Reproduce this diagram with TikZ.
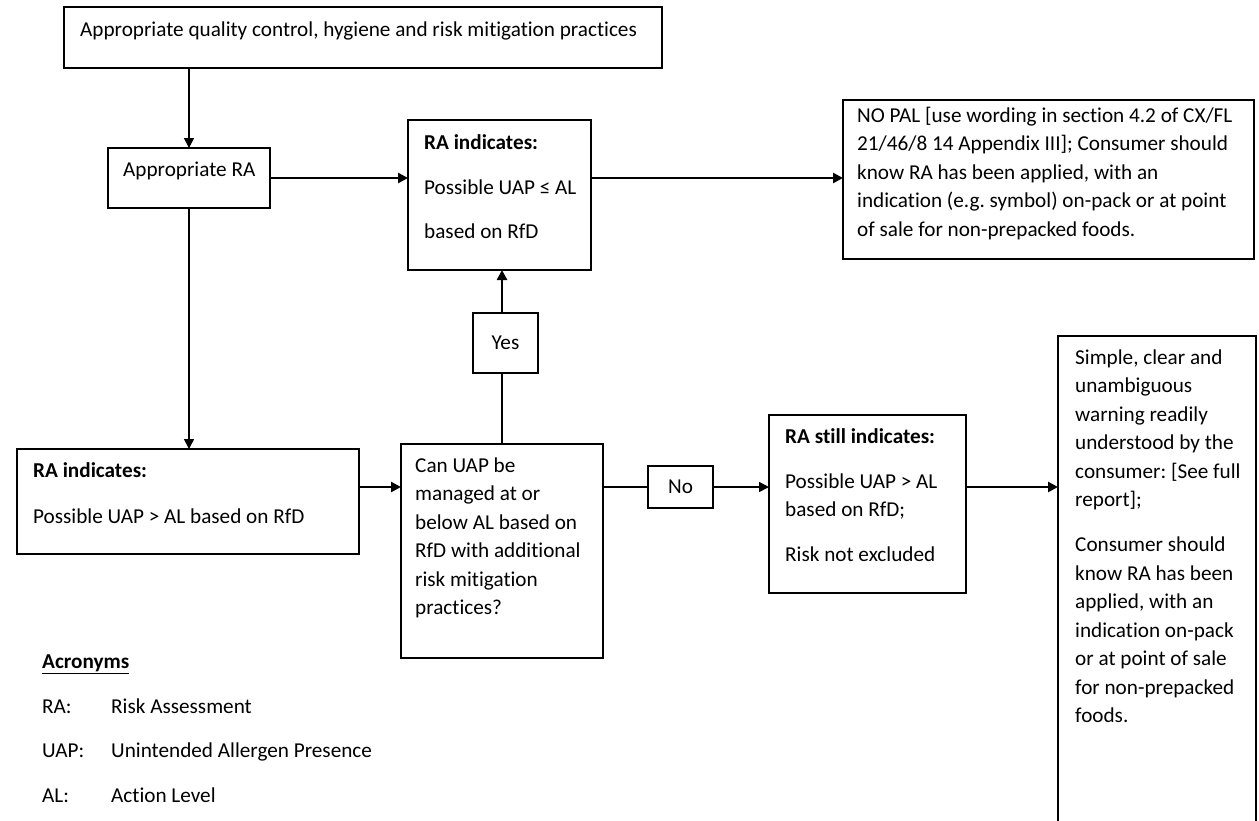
\documentclass[tikz,border=0pt]{standalone}
\usepackage{fontspec}
\setmainfont{Carlito}[Ligatures=NoCommon]
\usetikzlibrary{arrows.meta}
\newcommand\firststrut{\spaceskip=0pt\xspaceskip=0pt\rule{0pt}{20pt}}
\setlength\parindent{0pt}
\frenchspacing
\begin{document}
\begin{tikzpicture}[x=1pt,y=-1pt,
  box/.style={draw, line width=2.4pt, anchor=north west, inner sep=0pt, outer sep=0pt},
  txt/.style={anchor=base west, inner sep=0pt, font=\fontsize{21.2}{28.5}\selectfont\frenchspacing},
  ml/.style={anchor=north west, inner sep=0pt, text width=#1, font=\fontsize{21.2}{28.5}\selectfont\frenchspacing},
  ctr/.style={inner sep=0pt, font=\fontsize{21.2}{28.5}\selectfont},
  thinarr/.style={line width=1.6pt, -{Triangle[length=10pt,width=10pt]}},
  thickarr/.style={line width=2.6pt, -{Triangle[length=10pt,width=10pt]}},
  thinline/.style={line width=1.6pt},
  thickline/.style={line width=2.6pt}]
\useasboundingbox (0,0) rectangle (1259,820);
\fill[white] (0,0) rectangle (1259,820);

% boxes
\node[box, minimum width=598pt, minimum height=61pt] (top) at (64,7) {};
\node[box, minimum width=162pt, minimum height=60pt] (ra) at (108,148) {};
\node[box, minimum width=183pt, minimum height=150pt] (rai) at (408,120) {};
\node[box, minimum width=411pt, minimum height=159pt] (nopal) at (843,100) {};
\node[box, minimum width=65pt, minimum height=60pt] (yes) at (473,313) {};
\node[box, minimum width=342pt, minimum height=105pt] (rab) at (17,449) {};
\node[box, minimum width=202pt, minimum height=214pt] (can) at (401,444) {};
\node[box, minimum width=65pt, minimum height=42pt] (no) at (648,466) {};
\node[box, minimum width=197pt, minimum height=178pt] (still) at (769,415) {};
\node[box, minimum width=198pt, minimum height=520pt] (warn) at (1058,336) {};

% texts
\node[txt] (ttop) at (80,36) {Appropriate quality control, hygiene and risk mitigation practices};
\node[txt] (tra) at (123,176) {Appropriate RA};
\node[ml=170pt] (trai) at (424,129) {\firststrut\textbf{RA indicates:}\\[16.5pt]Possible UAP ≤ AL\\[16pt]based on RfD};
\node[ml=400pt] (tnopal) at (857,102) {\firststrut NO PAL [use wording in section 4.2 of CX/FL\\21/46/8 14 Appendix III]; Consumer should\\know RA has been applied, with an\\indication (e.g. symbol) on-pack or at point\\of sale for non-prepacked foods.};
\node[ctr] (tyes) at (yes.center) {Yes};
\node[ml=330pt] (trab) at (33,457) {\firststrut\textbf{RA indicates:}\\[17.5pt]Possible UAP > AL based on RfD};
\node[ml=190pt] (tcan) at (415,452) {\firststrut Can UAP be\\managed at or\\below AL based on\\RfD with additional\\risk mitigation\\practices?};
\node[ctr] (tno) at (no.center) {No};
\node[ml=185pt] (tstill) at (785,423) {\firststrut\textbf{RA still indicates:}\\[16.5pt]Possible UAP > AL\\based on RfD;\\[16pt]Risk not excluded};
\node[ml=185pt] (twarn) at (1075,344) {\firststrut Simple, clear and\\unambiguous\\warning readily\\understood by the\\consumer: [See full\\report];\\[16.5pt]Consumer should\\know RA has been\\applied, with an\\indication on-pack\\or at point of sale\\for non-prepacked\\foods.};

% acronyms
\node[txt] (acr) at (42,668) {\underline{\textbf{Acronyms}}};
\node[txt] (a1) at (42,713) {RA:};
\node[txt] (a1d) at (111,713) {Risk Assessment};
\node[txt] (a2) at (42,757) {UAP:};
\node[txt] (a2d) at (111,757) {Unintended Allergen Presence};
\node[txt] (a3) at (42,802) {AL:};
\node[txt] (a3d) at (111,802) {Action Level};

% connectors
\draw[thinarr] (top.south -| ra.north) -- (ra.north);
\draw[thickarr] (ra.east) -- (rai.west |- ra.east);
\draw[thickarr] (rai.east |- ra.east) -- (nopal.west |- ra.east);
\draw[thinarr] (ra.south) -- (ra.south |- rab.north);
\draw[thickarr] (rab.east |- no.center) -- (can.west |- no.center);
\draw[thickline] (can.north) -- (can.north |- yes.south);
\draw[thickarr] (can.north |- yes.north) -- (can.north |- rai.south);
\draw[thinline] (can.east |- no.west) -- (no.west);
\draw[thinarr] (no.east) -- (no.east -| still.west);
\draw[thickarr] (still.east |- no.east) -- (warn.west |- no.east);
\end{tikzpicture}
\end{document}
